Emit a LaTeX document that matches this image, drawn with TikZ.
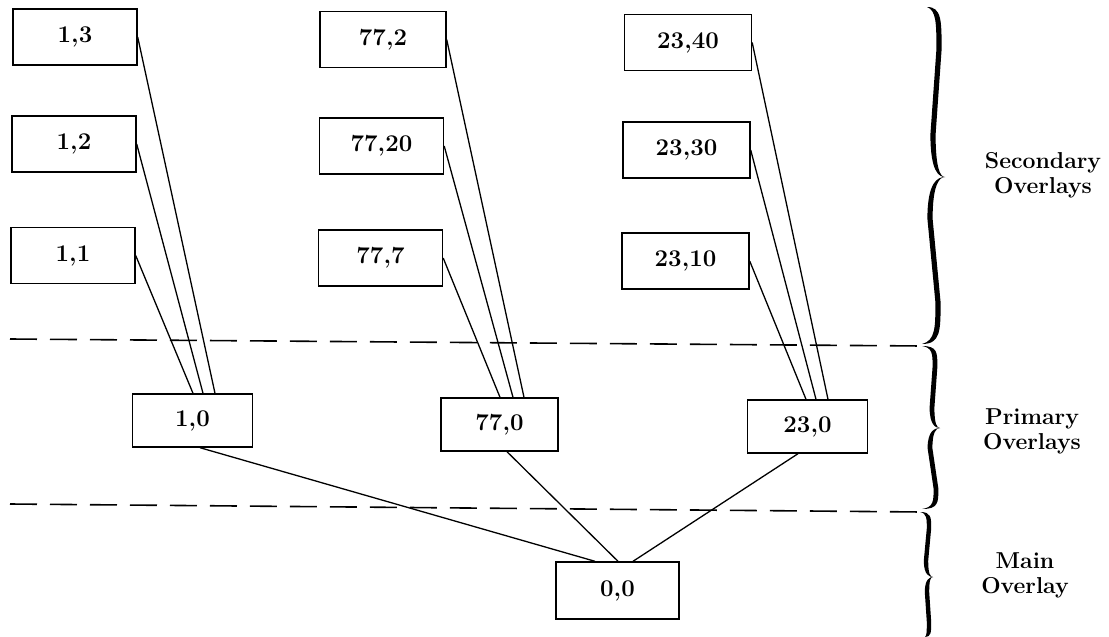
\documentclass[tikz,border=0pt]{standalone}
\usetikzlibrary{calc}
% half of a curly brace: #1,#2 tip; #3,#4 point; #5 body x near tip; #6 body x near point; #7 half thickness
\newcommand\halfbrace[7]{%
  \fill (#1,#2) .. controls ({#5+#7},#2) and ({#5+#7},{#2+0.08*(#4-#2)}) .. ({#5+#7},{#2+0.25*(#4-#2)})
  -- ({#6+#7},{#2+0.75*(#4-#2)}) .. controls ({#6+#7},{#2+0.95*(#4-#2)}) and ({#3-0.4*(#3-#6)},#4) .. (#3,#4)
  .. controls ({#3-0.5*(#3-#6)},#4) and ({#6-#7},{#2+0.97*(#4-#2)}) .. ({#6-#7},{#2+0.75*(#4-#2)})
  -- ({#5-#7},{#2+0.25*(#4-#2)}) .. controls ({#5-#7},{#2+0.1*(#4-#2)}) and ({#5-#7},{#2+0.02*(#4-#2)}) .. (#1,#2) -- cycle;}
\begin{document}
\begin{tikzpicture}[x=1pt,y=-1pt,
  box/.style={draw,line width=1.4pt,minimum width=124pt,minimum height=56pt,inner sep=0pt,
    font=\bfseries\fontsize{24}{24}\selectfont},
  pbox/.style={box,minimum width=120pt,minimum height=53pt},
  conn/.style={line width=1.3pt},
  sepline/.style={line width=1.6pt,dash pattern=on 27pt off 13pt},
  lab/.style={align=center,font=\bfseries\fontsize{23}{25}\selectfont}]
\fill[white] (0,0) rectangle (1109,637);
\useasboundingbox (0,0) rectangle (1109,637);

% secondary overlays
\node[box] (s13) at (75,37) {1,3};
\node[box] (s12) at (74,144) {1,2};
\node[box] (s11) at (73,255.5) {1,1};
\node[box,minimum width=126pt] (s772) at (383,39.5) {77,2};
\node[box] (s7720) at (381.5,146) {77,20};
\node[box] (s777) at (380.5,258) {77,7};
\node[box,minimum width=127pt] (s2340) at (688,42.5) {23,40};
\node[box,minimum width=127pt] (s2330) at (686.5,150) {23,30};
\node[box,minimum width=127pt] (s2310) at (685.5,261) {23,10};

% primary overlays
\node[pbox] (p1) at (192.5,420.5) {1,0};
\node[pbox,minimum width=117pt] (p77) at (499.5,424.5) {77,0};
\node[pbox] (p23) at (807.5,426.5) {23,0};

% main overlay
\node[box,minimum width=123pt,minimum height=57pt] (m) at (617.5,590.5) {0,0};

% connectors secondary -> primary
\draw[conn] (s11.east) -- ($(p1.north)+(0.5,0)$);
\draw[conn] (s12.east) -- ($(p1.north)+(10.5,0)$);
\draw[conn] (s13.east) -- ($(p1.north)+(22.5,0)$);
\draw[conn] (s777.east) -- ($(p77.north)+(0.5,0)$);
\draw[conn] (s7720.east) -- ($(p77.north)+(13.5,0)$);
\draw[conn] (s772.east) -- ($(p77.north)+(24.5,0)$);
\draw[conn] (s2310.east) -- ($(p23.north)+(-1.5,0)$);
\draw[conn] (s2330.east) -- ($(p23.north)+(8.5,0)$);
\draw[conn] (s2340.east) -- ($(p23.north)+(20.5,0)$);

% connectors primary -> main
\draw[conn] ($(p1.south)+(7.5,0)$) -- ($(m.north)+(-22.5,0)$);
\draw[conn] ($(p77.south)+(7.5,0)$) -- ($(m.north)+(0.5,0)$);
\draw[conn] ($(p23.south)+(-9.5,0)$) -- ($(m.north)+(15.5,0)$);

% dashed separators
\coordinate (d1a) at (10,339);
\coordinate (d1b) at (922,346);
\coordinate (d2a) at (10,504);
\coordinate (d2b) at (922,512);
\draw[sepline] (d1a) -- (d1b);
\draw[sepline] (d2a) -- (d2b);

% braces
\halfbrace{927}{7}{945}{177}{939}{933}{2.6}
\halfbrace{922}{344}{945}{177}{938}{930}{2.6}
\halfbrace{922}{346}{940}{428}{935}{932}{2.4}
\halfbrace{922}{509}{940}{428}{936}{930}{2.4}
\halfbrace{920}{512}{933}{577}{929}{926}{2.2}
\halfbrace{925}{637}{933}{577}{929}{927}{2.2}

% labels
\node[lab] (lsec) at (1043,175) {Secondary\\Overlays};
\node[lab] (lpri) at (1032,431) {Primary\\Overlays};
\node[lab] (lmain) at (1025,575) {Main\\Overlay};
\end{tikzpicture}
\end{document}
